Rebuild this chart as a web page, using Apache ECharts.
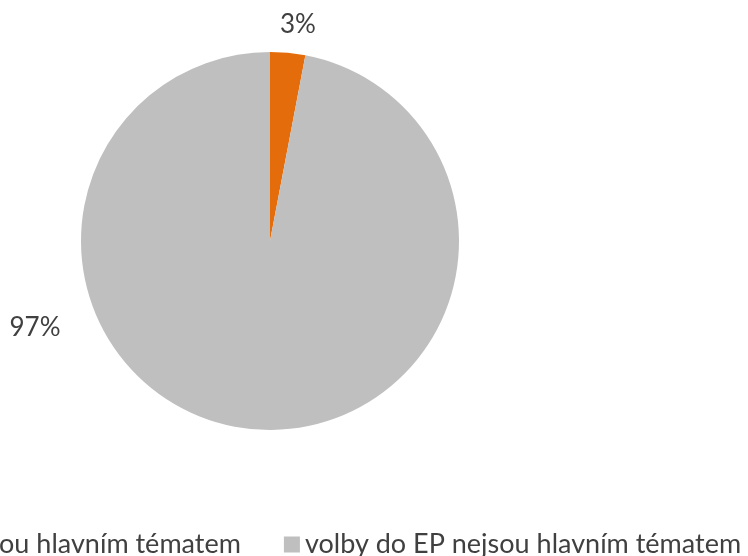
<!DOCTYPE html>
<html>
<head>
<meta charset="utf-8">
<script src="https://cdn.jsdelivr.net/npm/echarts@6/dist/echarts.min.js"></script>
<style>html,body{margin:0;padding:0;background:#fff;}#c{width:748px;height:556px;}</style>
</head>
<body>
<div id="c"></div>
<script>
const categories = ['volby do EP jsou hlavním tématem', 'volby do EP nejsou hlavním tématem'];
const values = [3, 97];
const colors = ['#E46C0A', '#BFBFBF'];

const chart = echarts.init(document.getElementById('c'), null, {renderer: 'canvas'});
const cx = 270, cy = 241, r = 189;
chart.setOption({
  animation: false,
  backgroundColor: '#ffffff',
  textStyle: {fontFamily: 'Lato'},
  legend: {
    data: categories,
    left: -187,
    top: 531,
    itemWidth: 16,
    itemHeight: 16,
    itemGap: 43,
    icon: 'rect',
    textStyle: {fontFamily: 'Lato', fontSize: 27, color: '#404040'},
    padding: 0
  },
  series: [{
    type: 'pie',
    center: [cx, cy],
    radius: [0, r],
    startAngle: 90,
    clockwise: true,
    data: categories.map((n, i) => ({name: n, value: values[i], itemStyle: {color: colors[i]}})),
    itemStyle: {borderWidth: 0},
    label: {
      show: true,
      position: 'outside',
      formatter: p => Math.round(p.percent) + '%',
      fontFamily: 'Lato',
      fontSize: 26,
      color: '#404040'
    },
    labelLine: {show: false},
    labelLayout: function (p) {
      if (p.dataIndex === 0) return {x: cx + 28, y: cy - 216, align: 'center', verticalAlign: 'middle'};
      return {x: cx - 235, y: cy + 87, align: 'center', verticalAlign: 'middle'};
    }
  }]
});
</script>
</body>
</html>
